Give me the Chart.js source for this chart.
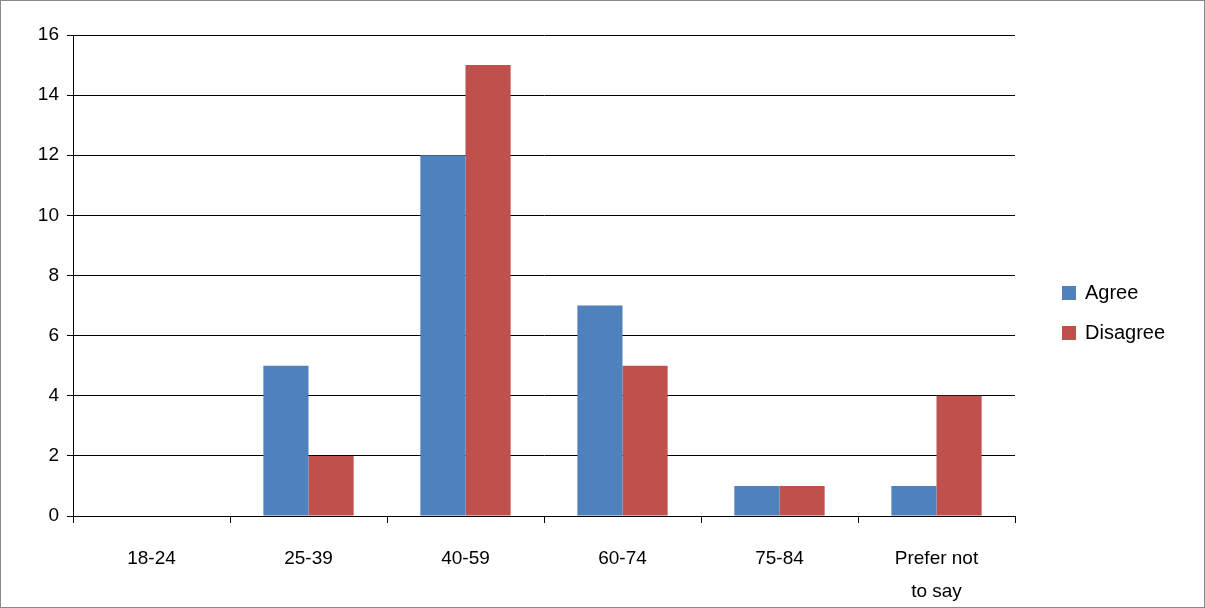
<!DOCTYPE html>
<html><head><meta charset="utf-8">
<script src="https://cdn.jsdelivr.net/npm/chart.js@4"></script>
<style>html,body{margin:0;padding:0;background:#fff}
#wrap{position:absolute;left:0;top:0;width:1203px;height:606px;border:1px solid #898989}</style>
</head><body><div id="wrap"><canvas id="c" width="1203" height="606"></canvas></div>
<script>
const categories = ["18-24","25-39","40-59","60-74","75-84",["Prefer not","to say"]];
const agree = [0,5,12,7,1,1];
const disagree = [0,2,15,5,1,4];
const seriesNames = ["Agree","Disagree"];
const colors = ["#4F81BD","#C0504D"];
const font = {family:"'Liberation Sans', Arial, sans-serif", size:19};

const legendPlugin = {
  id:'customLegend',
  afterDraw(chart){
    const ctx = chart.ctx;
    ctx.save();
    ctx.font = "20px 'Liberation Sans', Arial, sans-serif";
    ctx.textBaseline = 'middle';
    chart.data.datasets.forEach((ds,i)=>{
      const y = 292 + i*40;
      ctx.fillStyle = ds.backgroundColor;
      ctx.fillRect(1061, y-7, 14, 14);
      ctx.fillStyle = '#000';
      ctx.fillText(ds.label, 1084, y);
    });
    ctx.restore();
  }
};

new Chart(document.getElementById('c'), {
  type:'bar',
  data:{labels:categories, datasets:[
    {label:seriesNames[0], data:agree, backgroundColor:colors[0]},
    {label:seriesNames[1], data:disagree, backgroundColor:colors[1]}
  ]},
  options:{
    responsive:false, animation:false,
    layout:{padding:{left:10,top:34,right:189,bottom:0}},
    plugins:{legend:{display:false}, tooltip:{enabled:false}},
    datasets:{bar:{categoryPercentage:0.575, barPercentage:1}},
    scales:{
      x:{grid:{offset:true, drawOnChartArea:false, drawTicks:true, tickLength:7, color:'#000'},
         border:{color:'#000'},
         afterFit(s){s.height=91;},
         ticks:{color:'#000', font:{...font, lineHeight:1.7}, padding:20, maxRotation:0}},
      y:{min:0,max:16,
         grid:{color:'#000', tickLength:6},
         border:{color:'#000'},
         afterFit(s){s.width=62;},
         ticks:{stepSize:2, color:'#000', font, padding:8}}
    }
  },
  plugins:[legendPlugin]
});
</script></body></html>
